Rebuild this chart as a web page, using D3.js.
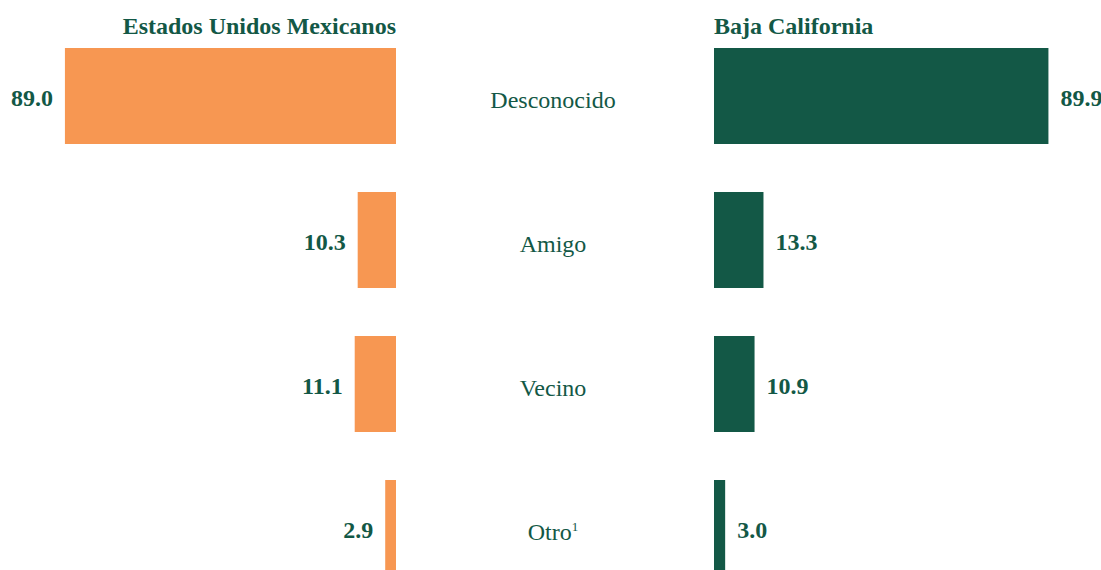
<!DOCTYPE html>
<meta charset="utf-8">
<style>
  body { margin: 0; background: #fff; }
  text { font-family: "Liberation Serif", "Times New Roman", serif; fill: #135846; }
  .title, .value { font-weight: bold; font-size: 24px; }
  .cat { font-size: 24px; }
</style>
<body>
<script src="https://d3js.org/d3.v7.min.js"></script>
<script>
// data
const categories = ["Desconocido", "Amigo", "Vecino", "Otro"];
const nacional = [89.0, 10.3, 11.1, 2.9];
const bajaCal = [89.9, 13.3, 10.9, 3.0];
const titles = ["Estados Unidos Mexicanos", "Baja California"];

const width = 1101, height = 570;
const leftEdge = 396, rightEdge = 714, midX = 553;
const green = "#135846", orange = "#F79752";

const svg = d3.select("body").append("svg")
  .attr("width", width)
  .attr("height", height);

const y = d3.scaleBand()
  .domain(categories)
  .range([24, 600])
  .paddingInner(1 / 3)
  .paddingOuter(1 / 6)
  .align(0.5);

const x = d3.scaleLinear().domain([0, 100]).range([0, 372]);

// titles
svg.append("text").attr("class", "title")
  .attr("x", leftEdge).attr("y", 34)
  .attr("text-anchor", "end")
  .text(titles[0]);
svg.append("text").attr("class", "title")
  .attr("x", rightEdge).attr("y", 34)
  .text(titles[1]);

// left bars (grow leftwards)
svg.append("g").selectAll("rect")
  .data(nacional)
  .join("rect")
  .attr("x", d => leftEdge - x(d))
  .attr("y", (d, i) => y(categories[i]))
  .attr("width", d => x(d))
  .attr("height", y.bandwidth())
  .attr("fill", orange);

svg.append("g").selectAll("text")
  .data(nacional)
  .join("text")
  .attr("class", "value")
  .attr("text-anchor", "end")
  .attr("x", d => leftEdge - x(d) - 12)
  .attr("y", (d, i) => y(categories[i]) + y.bandwidth() / 2 + 10)
  .text(d => d.toFixed(1));

// right bars
svg.append("g").selectAll("rect")
  .data(bajaCal)
  .join("rect")
  .attr("x", rightEdge)
  .attr("y", (d, i) => y(categories[i]))
  .attr("width", d => x(d))
  .attr("height", y.bandwidth())
  .attr("fill", green);

svg.append("g").selectAll("text")
  .data(bajaCal)
  .join("text")
  .attr("class", "value")
  .attr("x", d => rightEdge + x(d) + 12)
  .attr("y", (d, i) => y(categories[i]) + y.bandwidth() / 2 + 10)
  .text(d => d.toFixed(1));

// category labels in the middle
const cats = svg.append("g").selectAll("text")
  .data(categories)
  .join("text")
  .attr("class", "cat")
  .attr("text-anchor", "middle")
  .attr("x", midX)
  .attr("y", d => y(d) + y.bandwidth() / 2 + 12);

cats.append("tspan").text(d => d);
cats.filter(d => d === "Otro").append("tspan")
  .attr("font-size", 13)
  .attr("dy", -9)
  .text("1");
</script>
</body>
